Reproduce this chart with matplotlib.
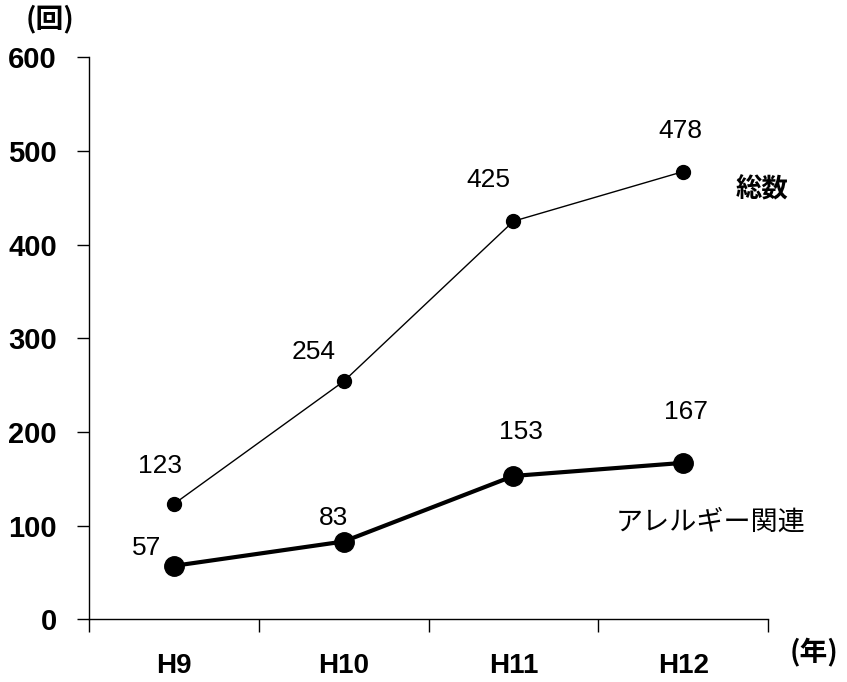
import matplotlib
matplotlib.use('Agg')
import matplotlib.pyplot as plt

plt.rcParams['font.family'] = ['Liberation Sans', 'Noto Sans CJK JP', 'DejaVu Sans']

years = ['H9', 'H10', 'H11', 'H12']
total = [123, 254, 425, 478]
allergy = [57, 83, 153, 167]

# pixel offsets of the value labels from their points
total_off = [(-14, 38), (-30, 29), (-25, 41), (-3, 41)]
allergy_off = [(-27, 18), (-10, 24), (7, 44), (3, 51)]

fig = plt.figure(figsize=(8.47, 6.82), dpi=100)
ax = fig.add_axes([0.105, 0.092, 0.802, 0.824])

x = range(len(years))
ax.plot(x, total, color='black', lw=1, marker='o', ms=10)
ax.plot(x, allergy, color='black', lw=3, marker='o', ms=14)

for i, v in enumerate(total):
    ax.annotate(str(v), (i, v), xytext=total_off[i], textcoords='offset pixels',
                ha='center', va='center', fontsize=19)
for i, v in enumerate(allergy):
    ax.annotate(str(v), (i, v), xytext=allergy_off[i], textcoords='offset pixels',
                ha='center', va='center', fontsize=19)

ax.text(3.31, 458, '総数', ha='left', va='center', fontsize=19,
        family=['Noto Sans CJK JP'], fontweight='bold')
ax.text(3.16, 104, 'アレルギー関連', ha='center', va='center', fontsize=19.5,
        family=['Noto Sans CJK JP'])

ax.set_xlim(-0.5, 3.5)
ax.set_ylim(0, 600)
ax.set_yticks(range(0, 601, 100))
ax.set_xticks([-0.5, 0.5, 1.5, 2.5, 3.5])
ax.set_xticklabels([])
ax.set_xticks(list(x), minor=True)
ax.set_xticklabels(years, minor=True)
ax.tick_params(axis='x', which='major', direction='out', length=9, width=1)
ax.tick_params(axis='x', which='minor', length=0, pad=24, labelsize=20)
ax.tick_params(axis='y', direction='out', length=9, width=1, pad=14, labelsize=21)
for lab in ax.get_xticklabels(minor=True) + ax.get_yticklabels():
    lab.set_fontweight('bold')

for s in ['top', 'right']:
    ax.spines[s].set_visible(False)
ax.spines['left'].set_linewidth(1)
ax.spines['bottom'].set_linewidth(1)

fig.text(0.03, 0.972, '(回)', ha='left', va='center', fontsize=20,
         family=['Noto Sans CJK JP'], fontweight='bold')
fig.text(0.932, 0.042, '(年)', ha='left', va='center', fontsize=20,
         family=['Noto Sans CJK JP'], fontweight='bold')

fig.savefig('out.png', dpi=100)
